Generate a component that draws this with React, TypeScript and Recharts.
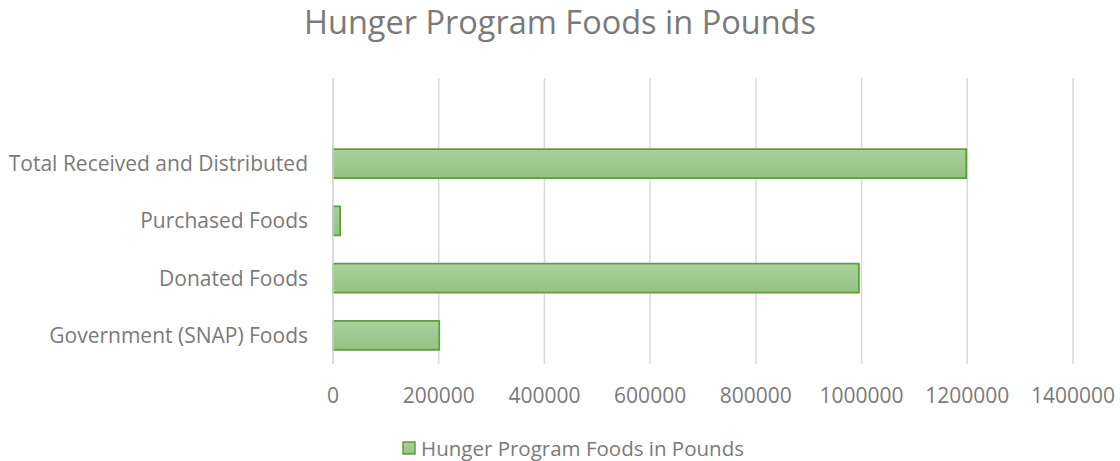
import React from "react";
import { BarChart, Bar, XAxis, YAxis, CartesianGrid } from "recharts";

const categories = ["", "Total Received and Distributed", "Purchased Foods", "Donated Foods", "Government (SNAP) Foods"];
const pounds: (number | null)[] = [null, 1198000, 13500, 995000, 201000];
const xTicks = [0, 200000, 400000, 600000, 800000, 1000000, 1200000, 1400000];
const seriesName = "Hunger Program Foods in Pounds";
const chartTitle = "Hunger Program Foods in Pounds";

const data = categories.map((c, i) => ({ name: c, value: pounds[i] }));

const FONT = "'Open Sans', sans-serif";
const TEXT = "#7a7a7a";
const STROKE = "#5c9f3c";

export default function App() {
  return (
    <div style={{ position: "absolute", left: 0, top: 0, width: 1120, height: 461, background: "#fff", overflow: "hidden" }}>
      <div
        style={{
          position: "absolute",
          left: 0,
          width: 1120,
          top: 2,
          textAlign: "center",
          fontFamily: FONT,
          fontSize: 32.5,
          color: TEXT,
          lineHeight: "40px",
          whiteSpace: "nowrap",
        }}
      >
        {chartTitle}
      </div>
      <BarChart
        width={1120}
        height={461}
        data={data}
        layout="vertical"
        margin={{ top: 78, right: 47, bottom: 57, left: 0 }}
      >
        <defs>
          <linearGradient id="barGrad" x1="0" y1="0" x2="0" y2="1">
            <stop offset="0%" stopColor="#aad09c" />
            <stop offset="100%" stopColor="#94c283" />
          </linearGradient>
        </defs>
        <CartesianGrid horizontal={false} vertical stroke="#d9d9d9" strokeWidth={1.5} />
        <XAxis
          type="number"
          domain={[0, 1400000]}
          ticks={xTicks}
          interval={0}
          axisLine={false}
          tickLine={false}
          tickSize={10}
          tickMargin={14}
          tick={{ fill: TEXT, fontSize: 21, fontFamily: FONT }}
          height={40}
        />
        <YAxis
          type="category"
          dataKey="name"
          width={333}
          axisLine={{ stroke: "#d9d9d9", strokeWidth: 1.5 }}
          tickLine={false}
          tickSize={8}
          tickMargin={17}
          interval={0}
          tick={{ fill: TEXT, fontSize: 21, fontFamily: FONT }}
        />
        <Bar
          dataKey="value"
          name={seriesName}
          fill="url(#barGrad)"
          stroke={STROKE}
          strokeWidth={1.75}
          barSize={29}
          isAnimationActive={false}
        />
      </BarChart>
      <div
        style={{
          position: "absolute",
          left: 13,
          width: 1120,
          top: 436,
          height: 24,
          display: "flex",
          justifyContent: "center",
          alignItems: "center",
          fontFamily: FONT,
          fontSize: 20.5,
          color: TEXT,
          lineHeight: "24px",
          whiteSpace: "nowrap",
        }}
      >
        <svg width={14} height={14} style={{ marginRight: 5 }}>
          <defs>
            <linearGradient id="lg" x1="0" y1="0" x2="0" y2="1">
              <stop offset="0%" stopColor="#aad09c" />
              <stop offset="100%" stopColor="#94c283" />
            </linearGradient>
          </defs>
          <rect x={1} y={1} width={12} height={12} fill="url(#lg)" stroke={STROKE} strokeWidth={1.5} />
        </svg>
        <span>{seriesName}</span>
      </div>
    </div>
  );
}
